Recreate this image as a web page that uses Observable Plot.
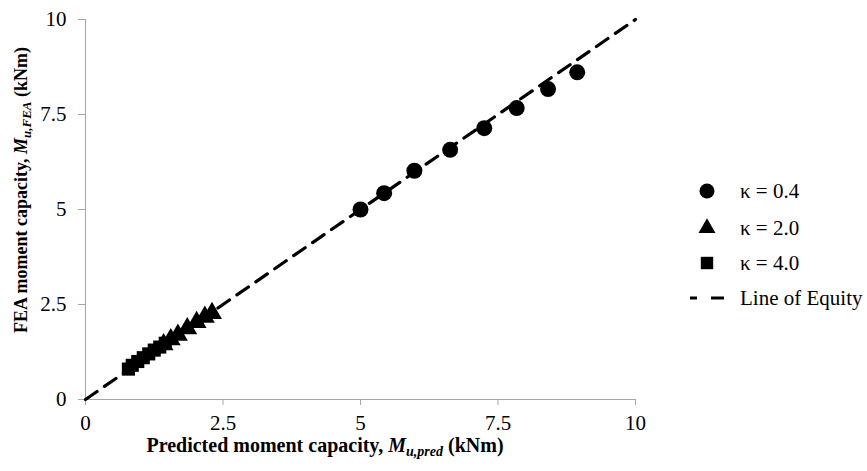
<!DOCTYPE html>
<html>
<head>
<meta charset="utf-8">
<script src="https://cdn.jsdelivr.net/npm/d3@7"></script>
<script src="https://cdn.jsdelivr.net/npm/@observablehq/plot@0.6"></script>
<style>
  body { margin: 0; background: white; }
  #chart { position: relative; width: 867px; height: 471px; }
</style>
</head>
<body>
<div id="chart"></div>
<script>
// κ = 0.4 series
const circlePred = [5.0, 5.43, 5.98, 6.63, 7.25, 7.84, 8.41, 8.94];
const circleFEA  = [5.0, 5.43, 6.02, 6.57, 7.14, 7.67, 8.17, 8.61];
// κ = 2.0 series
const trianglePred = [1.42, 1.55, 1.68, 1.85, 2.02, 2.17, 2.30];
const triangleFEA  = [1.45, 1.58, 1.70, 1.87, 2.03, 2.17, 2.27];
// κ = 4.0 series
const squarePred = [0.78, 0.85, 0.95, 1.05, 1.15, 1.25, 1.35, 1.45];
const squareFEA  = [0.80, 0.90, 1.00, 1.10, 1.20, 1.30, 1.38, 1.48];
// line of equity
const equityLine = [0, 10];
const tickValues = [0, 2.5, 5, 7.5, 10];
const legendLabels = ["κ = 0.4", "κ = 2.0", "κ = 4.0", "Line of Equity"];

const toRows = (xs, ys) => xs.map((x, i) => ({x, y: ys[i]}));
const circles = toRows(circlePred, circleFEA);
const triangles = toRows(trianglePred, triangleFEA);
const squares = toRows(squarePred, squareFEA);
const equity = equityLine.map(v => ({x: v, y: v}));

const serif = "'Liberation Serif', 'Times New Roman', serif";

const plot = Plot.plot({
  width: 867,
  height: 471,
  marginLeft: 85,
  marginRight: 232,
  marginTop: 19,
  marginBottom: 72,
  style: {fontFamily: serif, fontSize: "21px", color: "black", background: "white"},
  x: {domain: [0, 10]},
  y: {domain: [0, 10]},
  marks: [
    Plot.ruleY([0], {stroke: "#a6a6a6", strokeWidth: 1}),
    Plot.ruleX([0], {stroke: "#a6a6a6", strokeWidth: 1}),
    Plot.axisX({ticks: tickValues, tickFormat: d => String(d), stroke: "#a6a6a6", fill: "black", tickSize: 6, tickPadding: 10, label: null, fontSize: 21}),
    Plot.axisY({ticks: tickValues, tickFormat: d => String(d), stroke: "#a6a6a6", fill: "black", tickSize: 7, tickPadding: 12, label: null, fontSize: 21}),
    Plot.line(equity, {x: "x", y: "y", stroke: "black", strokeWidth: 3.2, strokeDasharray: "14,9"}),
    Plot.dot(squares, {x: "x", y: "y", symbol: "square", r: 7.4, fill: "black"}),
    Plot.dot(triangles, {x: "x", y: "y", symbol: "triangle", r: 7.4, fill: "black"}),
    Plot.dot(circles, {x: "x", y: "y", symbol: "circle", r: 8, fill: "black"})
  ]
});
document.getElementById("chart").appendChild(plot);

const svg = d3.select(plot);

// X axis title with subscript
const xt = svg.append("text")
  .attr("x", 325).attr("y", 452)
  .attr("text-anchor", "middle")
  .attr("font-family", serif).attr("font-weight", "bold").attr("font-size", 20)
  .attr("fill", "black");
xt.append("tspan").text("Predicted moment capacity, ");
xt.append("tspan").attr("font-style", "italic").text("M");
xt.append("tspan").attr("font-style", "italic").attr("font-size", 14).attr("dy", 4).text("u,pred");
xt.append("tspan").attr("dy", -4).text(" (kNm)");

// Y axis title with subscript
const yt = svg.append("text")
  .attr("transform", "translate(27,190) rotate(-90)")
  .attr("text-anchor", "middle")
  .attr("font-family", serif).attr("font-weight", "bold").attr("font-size", 18)
  .attr("fill", "black");
yt.append("tspan").text("FEA moment capacity, ");
yt.append("tspan").attr("font-style", "italic").text("M");
yt.append("tspan").attr("font-style", "italic").attr("font-size", 13).attr("dy", 4).text("u,FEA");
yt.append("tspan").attr("dy", -4).text(" (kNm)");

// Legend
const lg = svg.append("g").attr("font-family", serif).attr("font-size", 21).attr("fill", "black");
const legendY = [191, 228, 263, 298];
const syms = [d3.symbolCircle, d3.symbolTriangle, d3.symbolSquare];
const symSizes = [Math.PI * 7.5 * 7.5, Math.PI * 6.3 * 6.3, Math.PI * 7 * 7];
syms.forEach((s, i) => {
  lg.append("path")
    .attr("transform", `translate(707,${legendY[i]})`)
    .attr("d", d3.symbol(s, symSizes[i])())
    .attr("fill", "black");
});
lg.append("line")
  .attr("x1", 690).attr("x2", 724).attr("y1", legendY[3]).attr("y2", legendY[3])
  .attr("stroke", "black").attr("stroke-width", 3.2).attr("stroke-dasharray", "7,14,13,100");
legendLabels.forEach((t, i) => {
  lg.append("text").attr("x", 740).attr("y", legendY[i]).attr("dy", "0.35em")
    .attr("text-anchor", "start").text(t);
});
</script>
</body>
</html>
